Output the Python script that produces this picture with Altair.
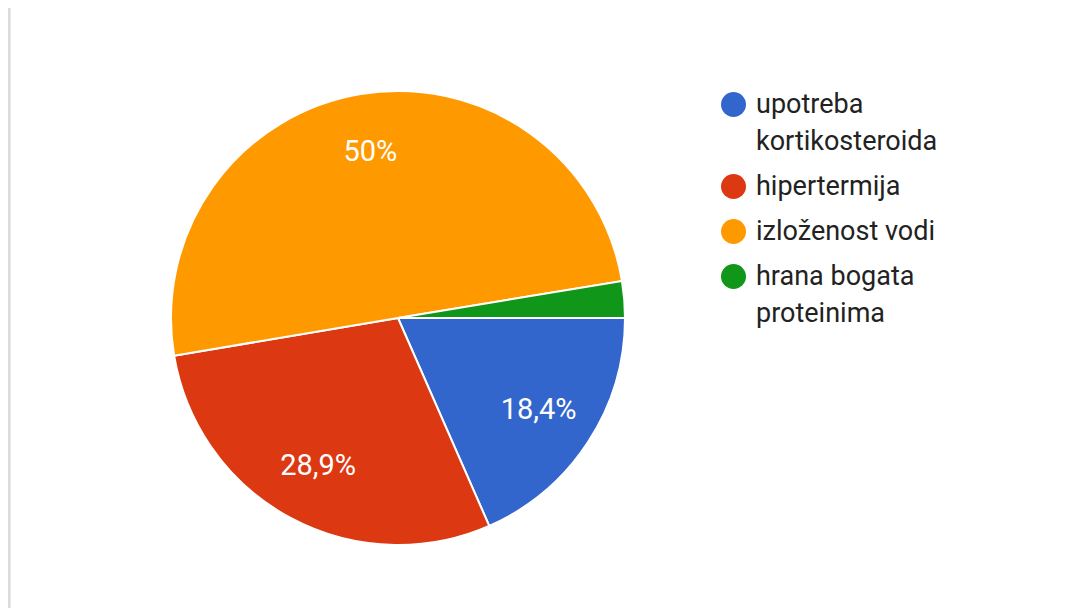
import altair as alt
import pandas as pd

categories = ["upotreba kortikosteroida", "hipertermija", "izloženost vodi", "hrana bogata proteinima"]
legend_lines = [["upotreba", "kortikosteroida"], ["hipertermija"], ["izloženost vodi"], ["hrana bogata", "proteinima"]]
percent_values = [18.4, 28.9, 50.0, 2.6]
percent_labels = ["18,4%", "28,9%", "50%", ""]
colors = ["#3366cc", "#dc3912", "#ff9900", "#109618"]

df = pd.DataFrame({
    "cat": categories,
    "val": percent_values,
    "lab": percent_labels,
    "idx": list(range(len(categories))),
})

wrap_map = {c: "|".join(l) for c, l in zip(categories, legend_lines)}
label_expr = "split(" + " : ".join(
    [f"datum.label == '{c}' ? '{w}'" for c, w in wrap_map.items()]
) + " : datum.label, '|')"

CX, CY, R = 390, 310, 227
TWO_PI = 6.283185307179586
START = 1.5707963267948966

base = alt.Chart(df).encode(
    theta=alt.Theta("val:Q", stack=True,
                    scale=alt.Scale(range=[START, START + TWO_PI])),
    order=alt.Order("idx:Q"),
    x=alt.value(CX),
    y=alt.value(CY),
)

arcs = base.mark_arc(outerRadius=R, stroke="white", strokeWidth=2).encode(
    color=alt.Color(
        "cat:N",
        scale=alt.Scale(domain=categories, range=colors),
        sort=categories,
        legend=alt.Legend(
            title=None,
            orient="none",
            legendX=712,
            legendY=83,
            symbolType="circle",
            symbolSize=625,
            symbolStrokeWidth=0,
            labelFont="Roboto",
            labelFontSize=27,
            labelColor="#222222",
            labelLimit=400,
            labelExpr=label_expr,
            rowPadding=17,
            labelOffset=9,
        ),
    )
)

texts = base.mark_text(radius=168, fontSize=29, font="Roboto",
                       color="white").encode(text="lab:N")

border = alt.Chart(df).mark_rule(color="#dadce0", strokeWidth=2.5).encode(
    x=alt.value(1), y=alt.value(-3), y2=alt.value(608)
)

chart = alt.layer(border, arcs, texts).properties(
    width=1073, height=600, padding=0, autosize="none"
).configure(
    style={"guide-label": {"lineHeight": 37}},
    view=alt.ViewConfig(stroke=None),
)

chart.save("out.html", embed_options={"renderer": "svg", "actions": False})
